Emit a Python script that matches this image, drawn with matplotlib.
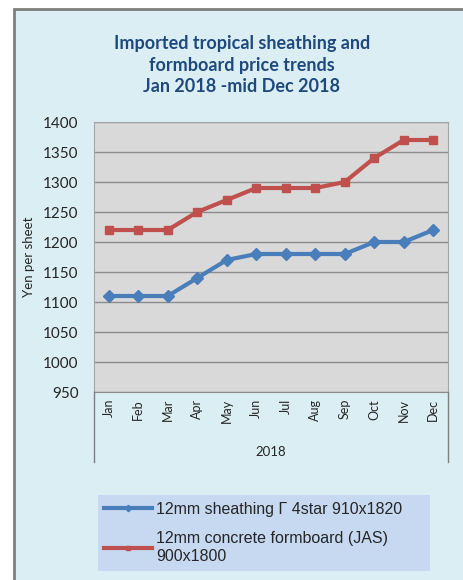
import matplotlib.pyplot as plt
from matplotlib.patches import Rectangle
from matplotlib.lines import Line2D

months = ["Jan", "Feb", "Mar", "Apr", "May", "Jun", "Jul", "Aug", "Sep", "Oct", "Nov", "Dec"]
sheathing = [1110, 1110, 1110, 1140, 1170, 1180, 1180, 1180, 1180, 1200, 1200, 1220]
formboard = [1220, 1220, 1220, 1250, 1270, 1290, 1290, 1290, 1300, 1340, 1370, 1370]
yticks = list(range(950, 1401, 50))

W, H = 463, 580
fig = plt.figure(figsize=(W / 100, H / 100), dpi=100)
fig.patch.set_facecolor("white")

# chart area background with grey border (behind the axes)
fig.patches.append(Rectangle((14 / W, -0.01), 1.0, 1 - 9 / H + 0.01, transform=fig.transFigure,
                             facecolor="#DBEEF4", edgecolor="#7F7F7F", linewidth=2, zorder=-10))

ax = fig.add_axes([94 / W, 1 - 392 / H, (448 - 94) / W, (392 - 122) / H])
ax.set_facecolor("#D9D9D9")

x = list(range(len(months)))
ax.plot(x, sheathing, color="#4A7EBB", lw=3, marker="D", ms=6.5, zorder=3,
        label="12mm sheathing Γ 4star 910x1820")
ax.plot(x, formboard, color="#C0504D", lw=3, marker="s", ms=6, zorder=3,
        label="12mm concrete formboard (JAS)\n900x1800")

ax.set_xlim(-0.5, len(months) - 0.5)
ax.set_ylim(950, 1400)
ax.set_yticks(yticks)
ax.set_xticks(x)
ax.set_xticklabels(months, rotation=90, family="Lato", fontsize=9, color="#262626")
ax.tick_params(axis="x", length=0, pad=5)
ax.tick_params(axis="y", length=0, pad=11, labelsize=11, labelcolor="#262626")
for lab in ax.get_yticklabels():
    lab.set_family("Lato")
ax.grid(axis="y", color="#8C8C8C", lw=1)
ax.set_axisbelow(True)
for s in ["top", "right", "left"]:
    ax.spines[s].set_color("#A6A6A6")
ax.spines["bottom"].set_color("#8C8C8C")

# category box sides
for xx in (94, 448):
    fig.add_artist(Line2D([xx / W, xx / W], [1 - 392 / H, 1 - 462 / H], transform=fig.transFigure,
                          color="#7F7F7F", lw=1))

fig.text(271 / W, 1 - 452 / H, "2018", ha="center", va="center", family="Lato", fontsize=9.5, color="#262626")
fig.text(29 / W, 1 - 257 / H, "Yen per sheet", rotation=90, ha="center", va="center",
         family="Lato", fontsize=9.5, color="#262626")

for i, line in enumerate(["Imported tropical sheathing and", "formboard price trends", "Jan 2018 -mid Dec 2018"]):
    fig.text(242 / W, 1 - (43 + 22 * i) / H, line, ha="center", va="center", family="Lato",
             fontweight="bold", fontsize=13, color="#1F497D")

leg = ax.legend(loc="center", bbox_to_anchor=(98 / W, 1 - 570 / H, 332 / W, 74 / H),
                bbox_transform=fig.transFigure, mode="expand", prop={"family": "Liberation Sans", "size": 11.5},
                facecolor="#C6D9F1", edgecolor="none", fancybox=False, framealpha=1, markerscale=0.5,
                handlelength=3.0, handletextpad=0.25, labelspacing=0.9, borderaxespad=0, borderpad=0.4)
for t in leg.get_texts():
    t.set_color("#262626")
    t.set_linespacing(1.25)

fig.savefig("out.png", dpi=100)
